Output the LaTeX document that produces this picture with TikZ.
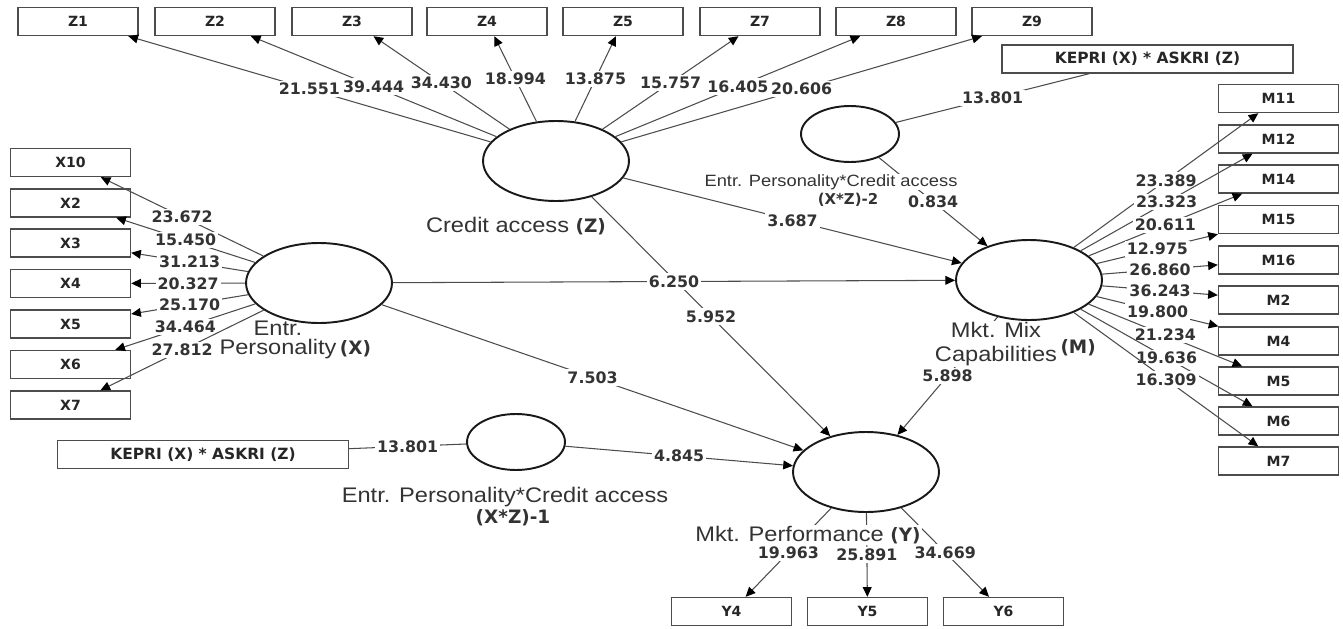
\documentclass[tikz,border=0pt]{standalone}
\usepackage{fontspec}
\setmainfont{Liberation Sans}[FakeStretch=1.12]
\newfontfamily\numfont{DejaVu Sans}
\usetikzlibrary{shapes.geometric,arrows.meta}

\tikzset{
  latent/.style={ellipse, draw=black!90, line width=1.1pt, minimum width=2.92cm, minimum height=1.6cm, inner sep=0pt},
  inter/.style={latent, minimum width=1.96cm, minimum height=1.12cm},
  ibox/.style={draw=black!70, line width=0.8pt, minimum width=2.4cm, minimum height=0.56cm, inner sep=0pt,
    font=\numfont\bfseries\fontsize{8}{9}\selectfont, text=black!85},
  kbox/.style={ibox, minimum width=5.82cm, font=\numfont\bfseries\fontsize{8.8}{10}\selectfont},
  load/.style={draw=black!70, line width=0.6pt},
  arr/.style={load, -{Triangle[length=5.5pt,width=5pt,color=black]}},
  lbl/.style={fill=white, inner sep=1.2pt, font=\numfont\bfseries\fontsize{9}{10}\selectfont, text=black!80},
  lvname/.style={fill=white, inner sep=0.5pt, align=center, text=black!80, font=\fontsize{12}{10.5}\selectfont},
}

\begin{document}
\begin{tikzpicture}[x=0.02cm, y=-0.02cm]
\useasboundingbox (0,0) rectangle (1343,629);

% latent variables
\node[latent] (ca) at (556,161) {};
\node[latent] (ep) at (319,283) {};
\node[latent] (mc) at (1029,280) {};
\node[latent] (mp) at (866,472) {};
\node[inter] (int2) at (850,134) {};
\node[inter] (int1) at (516,442) {};

% indicators
\foreach \nm/\xx in {Z1/78, Z2/215, Z3/352, Z4/487, Z5/623, Z7/760, Z8/896, Z9/1032}
  \node[ibox] (\nm) at (\xx,21.5) {\nm};
\foreach \nm/\yy in {X10/162.5, X2/203, X3/243, X4/283.5, X5/324, X6/364.5, X7/405}
  \node[ibox] (\nm) at (70.5,\yy) {\nm};
\foreach \nm/\yy in {M11/98.5, M12/139, M14/179, M15/219.5, M16/260, M2/300, M4/341, M5/381, M6/421, M7/461}
  \node[ibox] (\nm) at (1278.5,\yy) {\nm};
\foreach \nm/\xx in {Y4/731.5, Y5/867.5, Y6/1003.5}
  \node[ibox] (\nm) at (\xx,611.5) {\nm};
\node[kbox] (k1) at (203,454.5) {KEPRI (X) * ASKRI (Z)};
\node[kbox] (k2) at (1147.5,59) {KEPRI (X) * ASKRI (Z)};

% outer loadings
\foreach \nm/\val in {Z1/21.551, Z2/39.444, Z3/34.430, Z4/18.994, Z5/13.875, Z7/15.757, Z8/16.405, Z9/20.606}
  \draw[arr] (ca) -- node[lbl] {\val} (\nm);
\foreach \nm/\val in {X10/23.672, X2/15.450, X3/31.213, X4/20.327, X5/25.170, X6/34.464, X7/27.812}
  \draw[arr] (ep) -- node[lbl] {\val} (\nm);
\foreach \nm/\val in {M11/23.389, M12/23.323, M14/20.611, M15/12.975, M16/26.860, M2/36.243, M4/19.800, M5/21.234, M6/19.636, M7/16.309}
  \draw[arr] (mc) -- node[lbl] {\val} (\nm);
\foreach \nm/\val in {Y4/19.963, Y5/25.891, Y6/34.669}
  \draw[arr] (mp) -- node[lbl] {\val} (\nm);
\draw[load] (int1) -- node[lbl] {13.801} (k1);
\draw[load] (int2) -- node[lbl] {13.801} (k2);

% inner model
\draw[arr] (ca) -- node[lbl] {5.952} (mp);
\draw[arr] (ca) -- node[lbl] {3.687} (mc);
\draw[arr] (ep) -- node[lbl] {6.250} (mc);
\draw[arr] (ep) -- node[lbl] {7.503} (mp);
\draw[arr] (mc) -- node[lbl] {5.898} (mp);
\draw[arr] (int1) -- node[lbl] {4.845} (mp);
\draw[arr] (int2) -- node[lbl] {0.834} (mc);

% names
\node[lvname] (caname) at (516,226) {Credit access {\numfont\bfseries\fontsize{10.5}{12}\selectfont(Z)}};
\node[lvname, fill=none] (epname) at (278,340) {Entr.\\Personality\rlap{\,\numfont\bfseries\fontsize{10.5}{12}\selectfont(X)}};
\node[lvname] (mcname) at (996,344) {Mkt. Mix\\Capabilities\rlap{\,\raisebox{5pt}{\numfont\bfseries\fontsize{10.5}{12}\selectfont(M)}}};
\node[lvname] (mpname) at (808,535) {Mkt. Performance {\numfont\bfseries\fontsize{10.5}{12}\selectfont(Y)}};
\node[lvname] (int1name) at (505,497) {Entr. Personality*Credit access};
\node[lvname, font=\numfont\bfseries\fontsize{10.5}{12}\selectfont] (int1tag) at (513,518) {(X*Z)-1};
\node[lvname, font=\fontsize{9.3}{10.5}\selectfont] (int2name) at (831,182) {Entr. Personality*Credit access};
\node[lvname, font=\numfont\bfseries\fontsize{8.5}{10}\selectfont] (int2tag) at (848,200) {(X*Z)-2};
\end{tikzpicture}
\end{document}
